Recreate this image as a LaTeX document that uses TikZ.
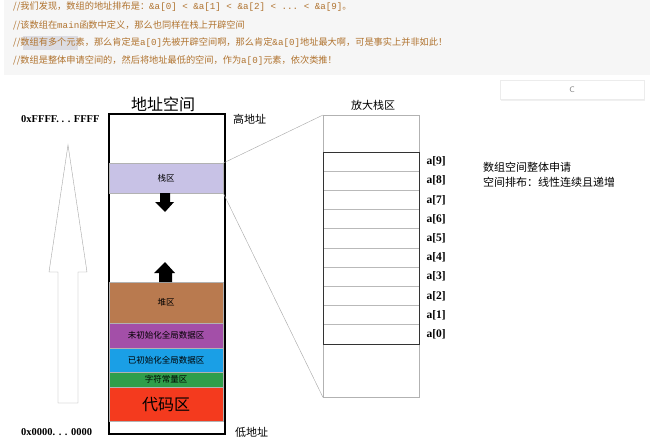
\documentclass[tikz,border=0pt]{standalone}
\usepackage{fontspec}
\setmonofont{Liberation Mono}
\newfontfamily\cjk{Noto Sans CJK SC}
\newfontfamily\serifb{Liberation Serif}
\usetikzlibrary{positioning}

\definecolor{cmtcol}{HTML}{B0732F}
\definecolor{stackcol}{HTML}{C8C2E6}
\definecolor{heapcol}{HTML}{B97A4F}
\definecolor{bsscol}{HTML}{A34FA8}
\definecolor{datacol}{HTML}{1A9FE6}
\definecolor{strcol}{HTML}{2F9E4A}
\definecolor{codecol}{HTML}{F43A1E}

\begin{document}
\begin{tikzpicture}[x=1pt,y=-1pt,
    cmt/.style={anchor=west,inner sep=0pt,text=cmtcol,font=\cjk\fontsize{9.2}{10}\selectfont},
    region/.style={draw=gray!60,anchor=north west,minimum width=114,inner sep=0pt,
                   font=\cjk\fontsize{8.5}{9}\selectfont},
    cell/.style={draw=gray!55,anchor=south west,minimum width=96,minimum height=19.2,inner sep=0pt},
    lbl/.style={inner sep=0pt,font=\cjk\fontsize{11}{12}\selectfont},
    addr/.style={anchor=west,inner sep=0pt,font=\serifb\bfseries\fontsize{10.5}{11}\selectfont}]
        \useasboundingbox (0,0) rectangle (650,444);
        \fill[white] (0,0) rectangle (650,444);

        % draw comment box
        \fill[gray!7] (4,0) rectangle (650,75);
        \fill[blue!10!gray!25] (23,36) rectangle (78,50);
        \node[cmt] (c1) at (13,7) {//我们发现，数组的地址排布是：\texttt{\&a[0] < \&a[1] < \&a[2] < ... < \&a[9]}。};
        \node[cmt] (c2) at (13,25) {//该数组在\texttt{main}函数中定义，那么也同样在栈上开辟空间};
        \node[cmt] (c3) at (13,43) {//数组有多个元素，那么肯定是\texttt{a[0]}先被开辟空间啊，那么肯定\texttt{\&a[0]}地址最大啊，可是事实上并非如此！};
        \node[cmt] (c4) at (13,61) {//数组是整体申请空间的，然后将地址最低的空间，作为\texttt{a[0]}元素，依次类推！};

        % draw button
        \fill[gray!12] (501,81) rectangle (645,101);
        \node[draw=gray!15,fill=white,anchor=north west,minimum width=144,minimum height=19,inner sep=0pt,
              font=\sffamily\fontsize{8}{8}\selectfont,text=gray] (btn) at (500,80) {C};

        % draw address space
        \node[lbl,font=\cjk\fontsize{16}{16}\selectfont] (title) at (163,104) {地址空间};
        \node[draw,line width=1.6pt,anchor=north west,minimum width=116,minimum height=320,inner sep=0pt] (space) at (108,113) {};
        \node[region,fill=stackcol,minimum height=30] (stack) at (109,163) {栈区};
        \node[region,fill=heapcol,minimum height=41] (heap) at (109,282) {堆区};
        \node[region,fill=bsscol,minimum height=25] (bss) at (109,323) {未初始化全局数据区};
        \node[region,fill=datacol,minimum height=24] (data) at (109,348) {已初始化全局数据区};
        \node[region,fill=strcol,minimum height=15] (str) at (109,372) {字符常量区};
        \node[region,fill=codecol,minimum height=34,font=\cjk\fontsize{16}{16}\selectfont] (code) at (109,387) {代码区};

        % draw growth arrows
        \fill (160,193) -- (170,193) -- (170,202) -- (174,202) -- (165,212) -- (155,202) -- (160,202) -- cycle;
        \fill (159,282) -- (172,282) -- (172,273) -- (175,273) -- (165,262) -- (154,273) -- (159,273) -- cycle;

        % draw address labels
        \node[addr] (hi) at (21,119) {0xFFFF. . . FFFF};
        \node[addr] (lo) at (21,432) {0x0000. . . 0000};
        \node[lbl,anchor=west] (hitxt) at (233,119) {高地址};
        \node[lbl,anchor=west] (lotxt) at (235,432) {低地址};
        \draw[gray!70] (58,403) -- (58,272) -- (49,272) -- (68,145) -- (87,272) -- (78,272) -- (78,403) -- cycle;

        % draw magnified stack
        \node[lbl] (magtitle) at (373,105) {放大栈区};
        \node[draw=gray!60,anchor=north west,minimum width=96,minimum height=282,inner sep=0pt] (mag) at (323,115) {};
        \foreach \i in {0,...,9} {
            \node[cell] (a\i) at (323,{344-19.2*\i}) {};
            \node[inner sep=0pt,font=\serifb\bfseries\fontsize{11.5}{12}\selectfont,right=7pt of a\i] (l\i) {a[\i]};
        }
        \node[draw=black!80,line width=1.2pt,anchor=north west,minimum width=96,minimum height=192,inner sep=0pt] (arr) at (323,152) {};
        \draw[gray!70] (stack.north east) -- (mag.north west);
        \draw[gray!70] (stack.south east) -- (mag.south west);

        % draw notes
        \node[lbl,anchor=west] (n1) at (483,167) {数组空间整体申请};
        \node[lbl,anchor=west] (n2) at (483,182) {空间排布：线性连续且递增};
\end{tikzpicture}
\end{document}
